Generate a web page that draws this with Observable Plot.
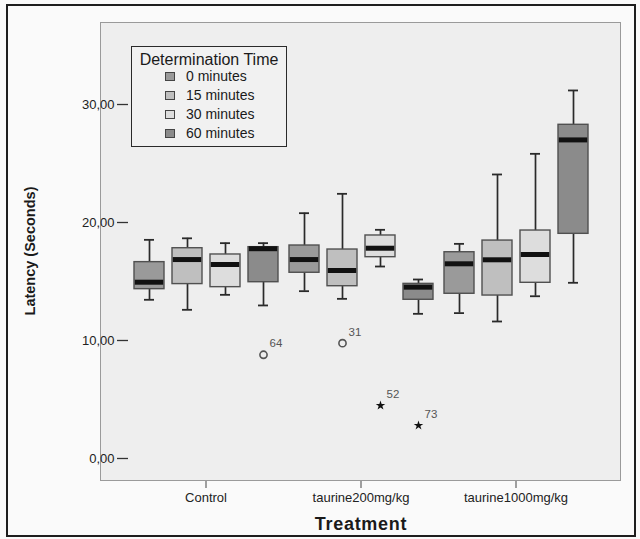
<!DOCTYPE html>
<html>
<head>
<meta charset="utf-8">
<script src="https://cdn.jsdelivr.net/npm/d3@7"></script>
<script src="https://cdn.jsdelivr.net/npm/@observablehq/plot@0.6"></script>
<style>
  body { margin: 0; background: #fafafa; font-family: "Liberation Sans", Arial, sans-serif; }
  #wrap { position: relative; width: 640px; height: 539px; overflow: hidden; }
  #outer { position: absolute; left: 6px; top: 4px; width: 630px; height: 533px; border: 2.5px solid #1e1e1e; box-sizing: border-box; }
  #plotbg { position: absolute; left: 100px; top: 22px; width: 521px; height: 459px; background: #eeeeee; border: 1.5px solid #9a9a9a; box-sizing: border-box; }
  #chart { position: absolute; left: 0; top: 0; }
  #ytitle { position: absolute; left: 30px; top: 251px; transform: translate(-50%, -50%) rotate(-90deg); font-weight: bold; font-size: 14.5px; color: #1a1a1a; white-space: nowrap; }
  #xtitle { position: absolute; left: 361px; top: 524px; transform: translate(-50%, -50%); font-weight: bold; font-size: 18px; letter-spacing: 0.7px; color: #1a1a1a; white-space: nowrap; }
  #legend { position: absolute; left: 131px; top: 46px; width: 156px; height: 101px; border: 1.6px solid #2a2a2a; background: #f1f1f1; box-sizing: border-box; }
  #legend .ttl { position: absolute; left: 0; width: 100%; top: 4px; text-align: center; font-size: 16px; color: #1a1a1a; white-space: nowrap; }
  #legend .item { position: absolute; left: 33px; height: 16px; display: flex; align-items: center; font-size: 14px; color: #1a1a1a; white-space: nowrap; }
  #legend .sw { width: 10px; height: 9px; border: 1.2px solid #444; margin-right: 11px; box-sizing: border-box; }
</style>
</head>
<body>
<div id="wrap">
  <div id="outer"></div>
  <div id="plotbg"></div>
  <div id="chart"></div>
  <div id="ytitle">Latency (Seconds)</div>
  <div id="xtitle">Treatment</div>
  <div id="legend"></div>
</div>
<script>
// ---- data ----
const treatments = ["Control", "taurine200mg/kg", "taurine1000mg/kg"];
const times = ["0 minutes", "15 minutes", "30 minutes", "60 minutes"];
const timeColors = ["#9a9a9a", "#bfbfbf", "#dddddd", "#8b8b8b"];
const yTicks = [0, 10, 20, 30];

// one value per box, order: Control (0,15,30,60), taurine200 (0,15,30,60), taurine1000 (0,15,30,60)
const whiskerLow  = [13.45, 12.60, 13.87, 12.97, 14.18, 13.53, 16.27, 12.26, 12.32, 11.61, 13.75, 14.89];
const quartile1   = [14.35, 14.78, 14.52, 14.94, 15.74, 14.60, 17.06, 13.45, 13.96, 13.81, 14.89, 19.04];
const medians     = [14.94, 16.86, 16.44, 17.78, 16.86, 15.93, 17.82, 14.52, 16.50, 16.84, 17.29, 27.00];
const quartile3   = [16.64, 17.82, 17.29, 17.91, 18.05, 17.71, 18.90, 14.80, 17.48, 18.47, 19.32, 28.28];
const whiskerHigh = [18.53, 18.66, 18.25, 18.25, 20.79, 22.43, 19.38, 15.17, 18.19, 24.07, 25.82, 31.19];

const outlierTreatment = ["Control", "taurine200mg/kg", "taurine200mg/kg", "taurine200mg/kg"];
const outlierTime      = ["60 minutes", "15 minutes", "30 minutes", "60 minutes"];
const outlierValue     = [8.79, 9.77, 4.49, 2.80];
const outlierLabel     = ["64", "31", "52", "73"];
const outlierExtreme   = [false, false, true, true];

// ---- tables built from the arrays ----
const boxes = [];
treatments.forEach((tr, g) => times.forEach((tm, t) => {
  const i = g * times.length + t;
  boxes.push({treatment: tr, time: tm, low: whiskerLow[i], q1: quartile1[i], median: medians[i], q3: quartile3[i], high: whiskerHigh[i]});
}));
const outliers = outlierValue.map((v, i) => ({treatment: outlierTreatment[i], time: outlierTime[i], value: v, label: outlierLabel[i], extreme: outlierExtreme[i]}));

const fmt = d => d3.format(".2f")(d).replace(".", ",");

const chart = Plot.plot({
  width: 640,
  height: 539,
  marginLeft: 100,
  marginRight: 19,
  marginTop: 22,
  marginBottom: 58,
  style: {background: "transparent", fontFamily: "'Liberation Sans', Arial, sans-serif", color: "#222"},
  fx: {domain: treatments, paddingInner: 0, paddingOuter: 0.173, label: null},
  x: {domain: times, paddingInner: 0.22, paddingOuter: 0.11, axis: null},
  y: {domain: [-1.95, 36.95], label: null},
  color: {domain: times, range: timeColors},
  marks: [
    Plot.axisY({ticks: yTicks, tickFormat: fmt, tickSize: 11, tickPadding: 3, fontSize: 13, stroke: "#333", strokeWidth: 1.3, label: null}),
    Plot.axisFx({anchor: "bottom", tickSize: 7, tickPadding: 4, fontSize: 13, stroke: "#444", label: null}),
    Plot.ruleX(boxes, {fx: "treatment", x: "time", y1: "low", y2: "high", stroke: "#2a2a2a", strokeWidth: 1.7}),
    Plot.tickY(boxes, {fx: "treatment", x: "time", y: "low", stroke: "#2a2a2a", strokeWidth: 1.8, inset: 10}),
    Plot.tickY(boxes, {fx: "treatment", x: "time", y: "high", stroke: "#2a2a2a", strokeWidth: 1.8, inset: 10}),
    Plot.barY(boxes, {fx: "treatment", x: "time", y1: "q1", y2: "q3", fill: "time", stroke: "#505050", strokeWidth: 1.4}),
    Plot.tickY(boxes, {fx: "treatment", x: "time", y: "median", stroke: "#111", strokeWidth: 5, inset: 0.8}),
    Plot.dot(outliers.filter(d => !d.extreme), {fx: "treatment", x: "time", y: "value", r: 3.6, stroke: "#555", strokeWidth: 1.6, fill: "none"}),
    Plot.dot(outliers.filter(d => d.extreme), {fx: "treatment", x: "time", y: "value", symbol: "star", r: 3, fill: "#111", stroke: "none"}),
    Plot.text(outliers, {fx: "treatment", x: "time", y: "value", text: "label", textAnchor: "start", dx: 6, dy: -11, fontSize: 11.5, fill: "#555"})
  ]
});
document.getElementById("chart").appendChild(chart);

// legend from the same arrays
const legend = document.getElementById("legend");
const ttl = document.createElement("div");
ttl.className = "ttl";
ttl.textContent = "Determination Time";
legend.appendChild(ttl);
times.forEach((tm, i) => {
  const it = document.createElement("div");
  it.className = "item";
  it.style.top = (21 + i * 19) + "px";
  const sw = document.createElement("span");
  sw.className = "sw";
  sw.style.background = timeColors[i];
  const lb = document.createElement("span");
  lb.textContent = tm;
  it.appendChild(sw);
  it.appendChild(lb);
  legend.appendChild(it);
});
</script>
</body>
</html>
